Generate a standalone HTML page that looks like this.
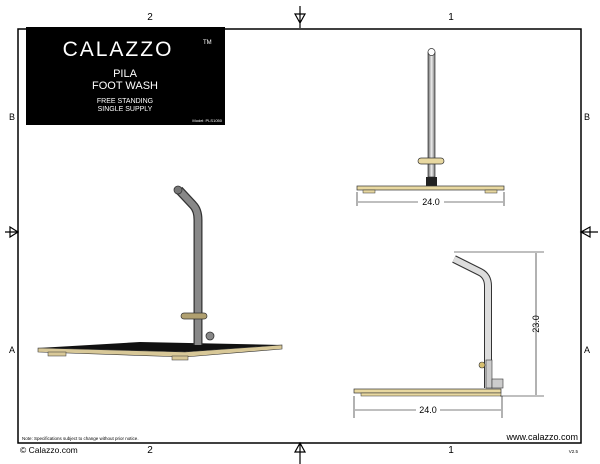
<!DOCTYPE html>
<html><head><style>body{margin:0;background:#fff}svg{display:block}text{font-family:"Liberation Sans",sans-serif}</style></head><body>
<svg width="600" height="464" viewBox="0 0 600 464" xmlns="http://www.w3.org/2000/svg">
<defs><linearGradient id="g" x1="0" x2="1"><stop offset="0" stop-color="#666"/><stop offset=".5" stop-color="#eee"/><stop offset="1" stop-color="#777"/></linearGradient></defs>
<rect x="18" y="29" width="563" height="414" fill="none" stroke="#000" stroke-width="1.5"/>
<text x="150" y="20" font-size="10" text-anchor="middle">2</text>
<text x="451" y="20" font-size="10" text-anchor="middle">1</text>
<text x="150" y="453" font-size="10" text-anchor="middle">2</text>
<text x="451" y="453" font-size="10" text-anchor="middle">1</text>
<text x="12" y="120" font-size="9" text-anchor="middle">B</text><text x="12" y="353" font-size="9" text-anchor="middle">A</text>
<text x="587" y="120" font-size="9" text-anchor="middle">B</text><text x="587" y="353" font-size="9" text-anchor="middle">A</text>
<g stroke="#000" fill="none" stroke-width="1.2">
<path d="M300 6V28M295 14L300 23L305 14Z"/><path d="M300 444V464M295 452L300 443L305 452Z"/>
<path d="M5 232H18M10 227L18 232L10 237Z"/><path d="M581 232H598M590 227L581 232L590 237Z"/>
</g>
<rect x="26" y="27" width="199" height="98" fill="#000"/>
<text x="118" y="56" font-size="21" fill="#fff" text-anchor="middle" letter-spacing="2">CALAZZO</text>
<text x="203" y="44" font-size="6" fill="#fff">TM</text>
<text x="125" y="77" font-size="11" fill="#fff" text-anchor="middle">PILA</text>
<text x="125" y="89" font-size="11" fill="#fff" text-anchor="middle">FOOT WASH</text>
<text x="125" y="103" font-size="7" fill="#fff" text-anchor="middle">FREE STANDING</text>
<text x="125" y="111" font-size="7" fill="#fff" text-anchor="middle">SINGLE SUPPLY</text>
<text x="222" y="122" font-size="4" fill="#fff" text-anchor="end">Model: PLS1050</text>
<!-- iso -->
<polygon points="38,348 140,342 282,345 185,352" fill="#111"/>
<polygon points="38,348 185,352 282,345 282,349 185,357 38,352" fill="#d8c898" stroke="#333" stroke-width=".6"/>
<rect x="48" y="352" width="18" height="4" fill="#d8c898" stroke="#333" stroke-width=".5"/>
<rect x="172" y="356" width="16" height="4" fill="#d8c898" stroke="#333" stroke-width=".5"/>
<path d="M179 190L193 205Q198 210 198 220V345" stroke="#333" stroke-width="9" fill="none"/>
<path d="M179 190L193 205Q198 210 198 220V345" stroke="#888" stroke-width="6.5" fill="none"/>
<circle cx="178" cy="190" r="4" fill="#777" stroke="#333" stroke-width=".8"/>
<rect x="181" y="313" width="26" height="6" rx="3" fill="#b0a070" stroke="#333" stroke-width=".7"/>
<circle cx="210" cy="336" r="4" fill="#888" stroke="#333" stroke-width=".8"/>
<!-- front view -->
<rect x="428" y="52" width="7" height="125" fill="url(#g)" stroke="#333" stroke-width=".7"/>
<circle cx="431.5" cy="52" r="3.5" fill="#fff" stroke="#333" stroke-width=".7"/>
<rect x="418" y="158" width="26" height="6" rx="3" fill="#e8d8a0" stroke="#333" stroke-width=".7"/>
<rect x="426" y="177" width="11" height="9" fill="#222"/>
<rect x="357" y="186" width="147" height="4" fill="#e8d8a0" stroke="#333" stroke-width=".7"/>
<rect x="363" y="190" width="12" height="3" fill="#e8d8a0" stroke="#333" stroke-width=".5"/>
<rect x="485" y="190" width="12" height="3" fill="#e8d8a0" stroke="#333" stroke-width=".5"/>
<g stroke="#000" stroke-width=".6"><path d="M357 192V206M504 192V206M358 202H418M444 202H503"/></g>
<text x="431" y="205" font-size="9" text-anchor="middle">24.0</text>
<!-- side view -->
<path d="M454 259L480 272Q488 276 488 286V388" stroke="#333" stroke-width="8" fill="none"/>
<path d="M454 259L480 272Q488 276 488 286V388" stroke="#ddd" stroke-width="6" fill="none"/>
<rect x="486" y="360" width="6" height="28" fill="#ccc" stroke="#333" stroke-width=".6"/>
<circle cx="482" cy="365" r="3" fill="#d8c070" stroke="#333" stroke-width=".6"/>
<rect x="492" y="379" width="11" height="9" fill="#ccc" stroke="#333" stroke-width=".6"/>
<rect x="354" y="389" width="147" height="4" fill="#e8d8a0" stroke="#333" stroke-width=".7"/>
<rect x="361" y="393" width="140" height="3" fill="#e8d8a0" stroke="#333" stroke-width=".5"/>
<g stroke="#000" stroke-width=".6"><path d="M454 252H544M500 396H544M536 253V395M354 396V418M502 396V418M355 410H416M440 410H501"/></g>
<text x="428" y="413" font-size="9" text-anchor="middle">24.0</text>
<text transform="translate(539,324) rotate(-90)" font-size="9" text-anchor="middle">23.0</text>
<text x="22" y="440" font-size="4.5">Note: Specifications subject to change without prior notice.</text>
<text x="578" y="440" font-size="9" text-anchor="end">www.calazzo.com</text>
<text x="20" y="453" font-size="8.5">© Calazzo.com</text>
<text x="578" y="453" font-size="4.5" text-anchor="end">V2.5</text>
</svg>
</body></html>
